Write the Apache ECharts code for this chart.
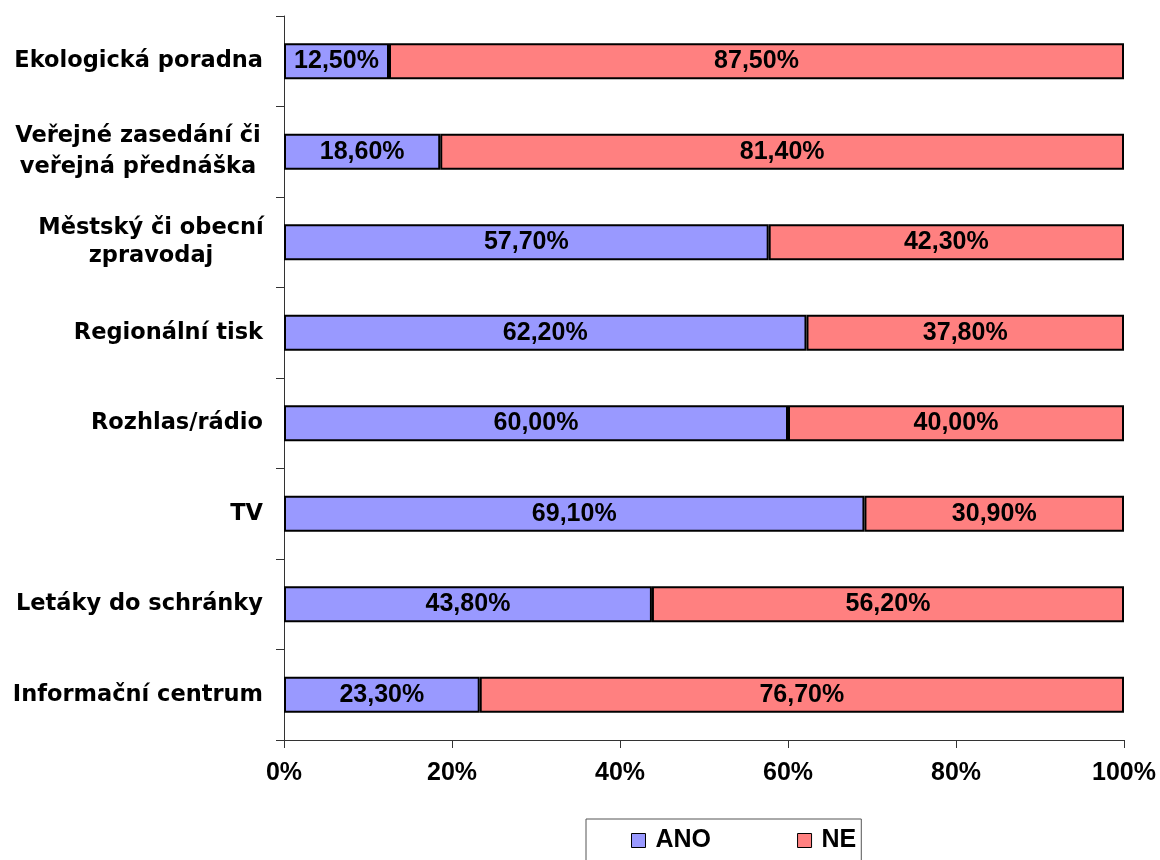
<!DOCTYPE html>
<html>
<head>
<meta charset="utf-8">
<script src="https://cdn.jsdelivr.net/npm/echarts@6/dist/echarts.min.js"></script>
<style>
html,body{margin:0;padding:0;background:#fff;}
#chart{width:1160px;height:860px;}
</style>
</head>
<body>
<div id="chart"></div>
<script>
const categories = [
  'Ekologická poradna',
  'Veřejné zasedání či\nveřejná přednáška',
  'Městský či obecní\nzpravodaj',
  'Regionální tisk',
  'Rozhlas/rádio',
  'TV',
  'Letáky do schránky',
  'Informační centrum'
];
const seriesNames = ['ANO', 'NE'];
const anoValues = [12.5, 18.6, 57.7, 62.2, 60.0, 69.1, 43.8, 23.3];
const neValues = [87.5, 81.4, 42.3, 37.8, 40.0, 30.9, 56.2, 76.7];
const xTicks = [0, 20, 40, 60, 80, 100];

const catFont = {fontFamily: 'DejaVu Sans', fontWeight: 'bold', fontSize: 22.5, color: '#000'};
const numFont = {fontFamily: 'Liberation Sans', fontWeight: 'bold', fontSize: 25, color: '#000'};

function fmtPct(v) { return v.toFixed(2).replace('.', ',') + '%'; }

const chart = echarts.init(document.getElementById('chart'), null, {renderer: 'canvas'});
chart.setOption({
  animation: false,
  backgroundColor: '#ffffff',
  grid: {left: 284, right: 36, top: 16, bottom: 120, containLabel: false},
  xAxis: {
    type: 'value',
    min: xTicks[0],
    max: xTicks[xTicks.length - 1],
    interval: 20,
    axisLine: {show: true, lineStyle: {color: '#333', width: 1}},
    axisTick: {show: true, length: 8, lineStyle: {color: '#333'}},
    splitLine: {show: false},
    axisLabel: Object.assign({margin: 21, formatter: '{value}%'}, numFont)
  },
  yAxis: {
    type: 'category',
    inverse: true,
    data: categories,
    axisLine: {show: true, lineStyle: {color: '#333', width: 1}},
    axisTick: {show: true, length: 8, lineStyle: {color: '#333'}},
    splitLine: {show: false},
    axisLabel: Object.assign({
      margin: 21,
      lineHeight: 30,
      formatter: function (v) {
        const parts = v.split('\n');
        if (parts.length === 1) return v;
        const key = v.indexOf('Veřejné') === 0 ? 'w1' : 'w2';
        return parts.map(p => '{' + key + '|' + p + '}').join('\n');
      },
      rich: {
        w1: Object.assign({width: 250, align: 'center', lineHeight: 31}, catFont),
        w2: Object.assign({width: 224, align: 'center', lineHeight: 28}, catFont)
      }
    }, catFont)
  },
  legend: {
    left: 586,
    top: 819,
    orient: 'horizontal',
    padding: [9, 5, 20, 45],
    itemGap: 86,
    itemWidth: 14,
    itemHeight: 14,
    borderColor: '#555',
    borderWidth: 1,
    icon: 'rect',
    itemStyle: {borderColor: '#000', borderWidth: 1},
    textStyle: Object.assign({padding: [0, 0, 0, 5]}, numFont),
    data: seriesNames
  },
  series: [
    {
      name: seriesNames[0],
      type: 'bar',
      stack: 'total',
      barWidth: 36,
      data: anoValues,
      itemStyle: {color: '#9999FF', borderColor: '#000', borderWidth: 2},
      label: Object.assign({show: true, position: 'inside', formatter: p => fmtPct(p.value)}, numFont)
    },
    {
      name: seriesNames[1],
      type: 'bar',
      stack: 'total',
      barWidth: 36,
      data: neValues,
      itemStyle: {color: '#FF8080', borderColor: '#000', borderWidth: 2},
      label: Object.assign({show: true, position: 'inside', formatter: p => fmtPct(p.value)}, numFont)
    }
  ]
});
</script>
</body>
</html>
